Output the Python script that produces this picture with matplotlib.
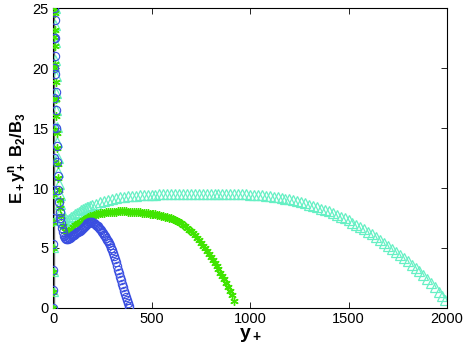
import matplotlib
matplotlib.use("Agg")
import matplotlib.pyplot as plt

plt.rcParams['font.family'] = ['Liberation Sans', 'DejaVu Sans']
plt.rcParams['mathtext.fontset'] = 'custom'
plt.rcParams['mathtext.rm'] = 'Liberation Sans'
plt.rcParams['mathtext.bf'] = 'Liberation Sans:bold'
plt.rcParams['mathtext.it'] = 'Liberation Sans:italic'

# Re_tau ~ 395 (blue circles)
blue_x = [0, 0.4, 0.8, 1.2, 1.6, 2.0, 2.5, 3.0, 3.5, 4.0, 4.5, 5,
          6, 7, 8, 9, 10, 11.5, 13, 14.5, 16, 18, 20, 23, 26, 29, 33, 37,
          40, 45, 50, 55, 60, 65, 70, 75, 80, 85, 90, 95, 100, 105, 110, 115,
          120, 125, 130, 135, 140, 145, 150, 155, 160, 165, 170, 175, 180, 185,
          190, 195, 200, 205, 210, 215, 220, 225, 230, 235, 240, 245, 250, 255,
          260, 265, 270, 275, 280, 285, 290, 295, 300, 305, 310, 315, 320, 325,
          330, 335, 340, 345, 350, 355, 360, 365, 370, 375, 380, 385, 388]
blue_y = [0, 1.5, 3.2, 5.3, 7.5, 9.8, 12.5, 15, 17.5, 20, 22.5, 25,
          27, 25.5, 24, 22.5, 21, 19.5, 18, 16.5, 15, 13.5, 12.2, 11, 9.8, 8.8,
          8.0, 7.5,
          7.1, 6.65, 6.3, 6.0, 5.85, 5.78, 5.75, 5.76, 5.8, 5.85, 5.9, 5.97,
          6.05, 6.12, 6.2, 6.25, 6.3, 6.35, 6.4, 6.45, 6.5, 6.57, 6.65, 6.73,
          6.82, 6.9, 6.98, 7.05, 7.1, 7.13, 7.15, 7.15, 7.13, 7.1, 7.05, 7.0,
          6.94, 6.87, 6.8, 6.7, 6.6, 6.48, 6.35, 6.22, 6.1, 5.97, 5.85, 5.7,
          5.55, 5.4, 5.25, 5.03, 4.8, 4.55, 4.3, 4.05, 3.8, 3.5, 3.2, 2.9, 2.6,
          2.3, 2.0, 1.72, 1.45, 1.17, 0.9, 0.65, 0.4, 0.15, 0.0]

# Re_tau ~ 930 (green stars)
green_x = [0, 0.4, 0.8, 1.2, 1.6, 2.0, 2.5, 3.0, 3.5, 4.0, 4.5, 5,
           6, 7, 8, 9, 10, 11.5, 13, 14.5, 16, 18, 20, 23, 26, 29, 33, 37,
           40, 50, 60, 70, 80, 90, 100, 110, 120, 130, 140, 150, 160, 170, 180,
           190, 200, 210, 220, 230, 240, 250, 260, 270, 280, 290, 300, 310,
           320, 330, 340, 350, 360, 370, 380, 390, 400, 410, 420, 430, 440, 450,
           460, 470, 480, 490, 500, 510, 520, 530, 540, 550, 560, 570, 580, 590,
           600, 610, 620, 630, 640, 650, 660, 670, 680, 690, 700, 710, 720, 730,
           740, 750, 760, 770, 780, 790, 800, 810, 820, 830, 840, 850, 860, 870,
           880, 890, 900, 910, 920]
green_y = [0, 1.3, 3.0, 5.0, 7.2, 9.5, 12.2, 14.8, 17.4, 20, 22.6, 25,
           27.5, 26, 24.6, 23.2, 21.8, 20.3, 18.8, 17.4, 16, 14.6, 13.3, 12, 10.8,
           9.8, 9.0, 8.3,
           7.7, 6.8, 6.4, 6.35, 6.45, 6.6, 6.75, 6.88, 7.0, 7.1, 7.2, 7.3, 7.4,
           7.48, 7.56, 7.63, 7.7, 7.75, 7.8, 7.85, 7.88, 7.92, 7.95, 7.97, 7.99,
           8.0, 8.02, 8.03, 8.04, 8.05, 8.05, 8.05, 8.05, 8.05, 8.04, 8.03, 8.02,
           8.01, 8.0, 7.99, 7.97, 7.95, 7.93, 7.91, 7.89, 7.87, 7.85, 7.83, 7.8,
           7.77, 7.74, 7.7, 7.66, 7.62, 7.58, 7.54, 7.5, 7.43, 7.35, 7.26, 7.16,
           7.05, 6.93, 6.81, 6.68, 6.54, 6.4, 6.23, 6.05, 5.85, 5.63, 5.4, 5.18,
           4.96, 4.74, 4.5, 4.25, 4.0, 3.74, 3.48, 3.22, 2.95, 2.67, 2.38, 2.08,
           1.78, 1.45, 1.05, 0.6]

# Re_tau ~ 2000 (aquamarine triangles)
teal_x = [0, 0.4, 0.8, 1.2, 1.6, 2.0, 2.5, 3.0, 3.5, 4.0, 4.5, 5,
          6, 7, 8, 9, 10, 11.5, 13, 14.5, 16, 18, 20, 23, 26, 29, 33, 37,
          40, 50, 60, 70, 80, 90, 100, 110, 120, 130, 140, 150, 160, 170, 180,
          190, 200, 220, 240, 260, 280, 300, 320, 340, 360, 380, 400, 420, 440,
          460, 480, 500, 520, 540, 560, 580, 600, 620, 640, 660, 680, 700, 720,
          740, 760, 780, 800, 820, 840, 860, 880, 900, 920, 940, 960, 980, 1000,
          1020, 1040, 1060, 1080, 1100, 1120, 1140, 1160, 1180, 1200, 1220,
          1240, 1260, 1280, 1300, 1320, 1340, 1360, 1380, 1400, 1420, 1440,
          1460, 1480, 1500, 1520, 1540, 1560, 1580, 1600, 1620, 1640, 1660,
          1680, 1700, 1720, 1740, 1760, 1780, 1800, 1820, 1840, 1860, 1880,
          1900, 1920, 1940, 1960, 1975, 1990]
teal_y = [0, 1.4, 3.1, 5.1, 7.3, 9.6, 12.3, 15, 17.6, 20.2, 22.8, 25.2,
          27.8, 26.5, 25, 23.6, 22.2, 20.7, 19.3, 17.9, 16.5, 15.1, 13.8, 12.5,
          11.3, 10.3, 9.4, 8.7,
          8.2, 7.5, 7.25, 7.3, 7.42, 7.55, 7.68, 7.8, 7.92, 8.03, 8.13, 8.22,
          8.3, 8.38, 8.45, 8.52, 8.58, 8.7, 8.81, 8.91, 9.0, 9.08, 9.15, 9.21,
          9.26, 9.3, 9.33, 9.36, 9.38, 9.4, 9.42, 9.44, 9.45, 9.46, 9.47, 9.48,
          9.49, 9.5, 9.5, 9.5, 9.5, 9.5, 9.5, 9.5, 9.5, 9.5, 9.5, 9.5, 9.5,
          9.5, 9.5, 9.5, 9.5, 9.49, 9.48, 9.47, 9.45, 9.43, 9.41, 9.38, 9.35,
          9.31, 9.27, 9.22, 9.17, 9.11, 9.05, 8.97, 8.89, 8.8, 8.71, 8.61, 8.51,
          8.4, 8.29, 8.17, 8.05, 7.91, 7.77, 7.62, 7.46, 7.3, 7.12, 6.94, 6.75,
          6.55, 6.35, 6.13, 5.91, 5.68, 5.44, 5.2, 4.95, 4.69, 4.43, 4.16, 3.9,
          3.62, 3.34, 3.06, 2.76, 2.45, 2.1, 1.75, 1.35, 1.0, 0.65]

fig = plt.figure(figsize=(4.63, 3.49), dpi=100)
ax = fig.add_axes([0.1145, 0.1175, 0.851, 0.8595])

ax.axvline(3, color='#707070', lw=1.0, zorder=1)
ax.plot(teal_x, teal_y, linestyle='none', marker='^', markersize=6.5,
        markerfacecolor='none', markeredgecolor='#66f0c4', markeredgewidth=0.9,
        zorder=2)
ax.plot(green_x, green_y, linestyle='none', marker=(6, 2, 0), markersize=6,
        markeredgecolor='#40e400', markeredgewidth=1.0, zorder=3)
ax.plot(blue_x, blue_y, linestyle='none', marker='o', markersize=6,
        markerfacecolor='none', markeredgecolor='#3a4ee0', markeredgewidth=0.8,
        zorder=4)

ax.set_xlim(0, 2000)
ax.set_ylim(0, 25)
ax.set_xticks([0, 500, 1000, 1500, 2000])
ax.set_yticks([0, 5, 10, 15, 20, 25])
ax.tick_params(direction='in', length=4, width=0.6, labelsize=10.5,
               top=True, right=True, pad=3)
for s in ax.spines.values():
    s.set_linewidth(0.8)

ax.set_xlabel(r'$\mathbf{y_+}$', fontsize=14, labelpad=0)
ax.set_ylabel(r'$\mathbf{E_+ y_+^n\ B_2/B_3}$', fontsize=12)
ax.yaxis.set_label_coords(-0.063, 0.5)

fig.savefig('out.png', dpi=100)
